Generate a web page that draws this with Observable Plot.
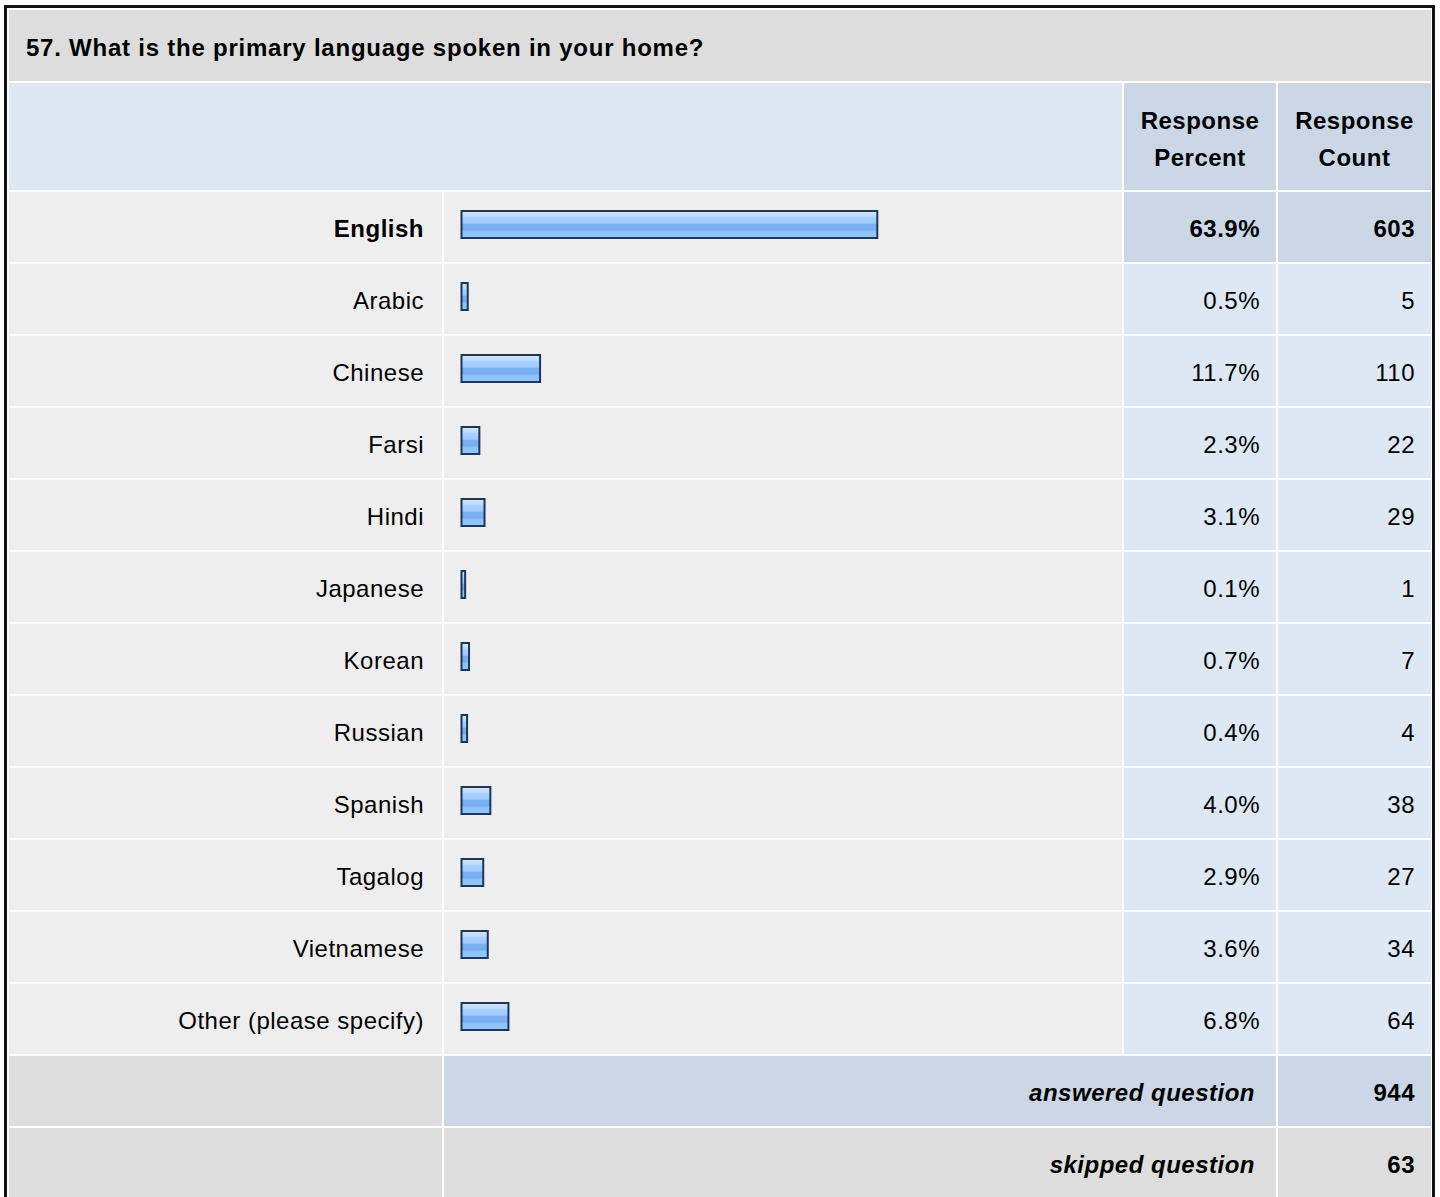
<!DOCTYPE html>
<html>
<head>
<meta charset="utf-8">
<script src="https://cdn.jsdelivr.net/npm/d3@7"></script>
<script src="https://cdn.jsdelivr.net/npm/@observablehq/plot@0.6"></script>
<style>
  html, body { margin: 0; padding: 0; background: #fff; width: 1440px; height: 1197px; overflow: hidden;
    font-family: "Liberation Sans", Arial, Helvetica, sans-serif; }
  #frame { position: absolute; left: 4px; top: 5px; width: 1425px; height: 1300px; border: 3px solid #111; box-sizing: content-box; }
  .cell { position: absolute; box-sizing: border-box; display: flex; align-items: center; font-size: 24px;
    letter-spacing: 0.5px; color: #000; white-space: nowrap; }
  .cell span { position: relative; top: 2px; }
  .right { justify-content: flex-end; }
  .center { justify-content: center; text-align: center; }
  .bold { font-weight: bold; }
  .ital { font-style: italic; font-weight: bold; }
  .title { letter-spacing: 0.77px; }
  #bars { position: absolute; left: 444px; top: 192px; }
  #bars svg { display: block; }
</style>
</head>
<body>
<div id="frame"></div>
<div id="cells"></div>
<div id="bars"></div>
<script>
// ---- data ----
const questionTitle = "57. What is the primary language spoken in your home?";
const headerLabels = ["Response<br>Percent", "Response<br>Count"];
const languages = ["English", "Arabic", "Chinese", "Farsi", "Hindi", "Japanese", "Korean", "Russian", "Spanish", "Tagalog", "Vietnamese", "Other (please specify)"];
const percents = [63.9, 0.5, 11.7, 2.3, 3.1, 0.1, 0.7, 0.4, 4.0, 2.9, 3.6, 6.8];
const counts = [603, 5, 110, 22, 29, 1, 7, 4, 38, 27, 34, 64];
const summaryLabels = ["answered question", "skipped question"];
const summaryCounts = [944, 63];

// ---- layout (table cells) ----
const cols = [[9, 442], [444, 1122], [1124, 1276], [1278, 1431]];
const C = { grey: "#dddddd", light: "#eeeeee", blue: "#dee8f5", mid: "#cbd7e6" };
const rowTop0 = 192, rowPitch = 72, rowH = 70;
const cellsEl = document.getElementById("cells");
function cell(x1, x2, y1, h, bg, html, cls, pad) {
  const d = document.createElement("div");
  d.className = "cell " + (cls || "");
  d.style.left = x1 + "px"; d.style.width = (x2 - x1) + "px";
  d.style.top = y1 + "px"; d.style.height = h + "px";
  d.style.background = bg;
  if (pad) { d.style.paddingLeft = (pad[0] || 0) + "px"; d.style.paddingRight = (pad[1] || 0) + "px"; }
  d.innerHTML = "<span>" + html + "</span>";
  cellsEl.appendChild(d);
  return d;
}
// title
cell(9, 1431, 10, 71, C.grey, questionTitle, "bold title", [17, 0]);
// header
cell(9, 1122, 83, 107, C.blue, "", "");
const h1 = cell(cols[2][0], cols[2][1], 83, 107, C.mid, headerLabels[0], "bold center");
const h2 = cell(cols[3][0], cols[3][1], 83, 107, C.mid, headerLabels[1], "bold center");
[h1, h2].forEach(h => h.querySelector("span").style.lineHeight = "37px");
// data rows
const maxIdx = percents.indexOf(d3.max(percents));
languages.forEach((lang, i) => {
  const y = rowTop0 + rowPitch * i;
  const hi = i === maxIdx;
  const b = hi ? " bold" : "";
  cell(cols[0][0], cols[0][1], y, rowH, C.light, lang, "right" + b, [0, 18]);
  cell(cols[1][0], cols[1][1], y, rowH, C.light, "", "");
  cell(cols[2][0], cols[2][1], y, rowH, hi ? C.mid : C.blue, percents[i].toFixed(1) + "%", "right" + b, [0, 16]);
  cell(cols[3][0], cols[3][1], y, rowH, hi ? C.mid : C.blue, String(counts[i]), "right" + b, [0, 16]);
});
// summary rows
summaryLabels.forEach((lab, j) => {
  const y = rowTop0 + rowPitch * (languages.length + j);
  const bg = j === 0 ? C.mid : C.grey;
  cell(cols[0][0], cols[0][1], y, rowH, C.grey, "", "");
  cell(cols[1][0], cols[2][1], y, rowH, bg, lab, "right ital", [0, 21]);
  cell(cols[3][0], cols[3][1], y, rowH, bg, String(summaryCounts[j]), "right bold", [0, 16]);
});

// ---- bars with Observable Plot ----
const rows = languages.map((language, i) => ({ language, percent: percents[i], count: counts[i] }));
const chart = Plot.plot({
  width: 678,
  height: 864,
  marginLeft: 17.5,
  marginRight: 14.5,
  marginTop: 0,
  marginBottom: 0,
  x: { domain: [0, 100], axis: null },
  y: { domain: languages, range: [-4, 860], paddingInner: 0.625, paddingOuter: 0.3125, axis: null },
  style: { background: "transparent", overflow: "visible" },
  marks: [
    Plot.barX(rows, {
      x1: 0, x2: "percent", y: "language",
      fill: "url(#barGrad)", stroke: "#1c365a", strokeWidth: 2,
      insetRight: -3
    })
  ]
});
d3.select(chart).insert("defs", ":first-child").html(`
  <linearGradient id="barGrad" x1="0" y1="0" x2="0" y2="1">
    <stop offset="0" stop-color="#d2e8ff"/>
    <stop offset="0.18" stop-color="#bddcff"/>
    <stop offset="0.25" stop-color="#a8d0ff"/>
    <stop offset="0.45" stop-color="#9cc9fb"/>
    <stop offset="0.5" stop-color="#7aaff2"/>
    <stop offset="0.7" stop-color="#78adf0"/>
    <stop offset="0.75" stop-color="#8cc2fa"/>
    <stop offset="1" stop-color="#94c8fc"/>
  </linearGradient>`);
document.getElementById("bars").appendChild(chart);
</script>
</body>
</html>
